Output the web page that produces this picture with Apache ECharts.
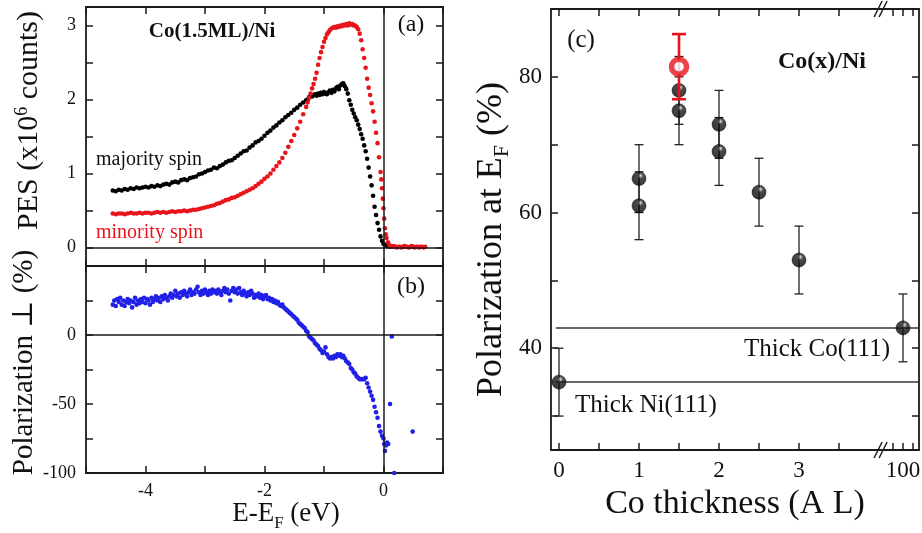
<!DOCTYPE html>
<html>
<head>
<meta charset="utf-8">
<script src="https://cdn.jsdelivr.net/npm/echarts@6.0.0/dist/echarts.min.js"></script>
<style>
  html, body { margin: 0; padding: 0; background: #fff; }
  #chart { width: 922px; height: 533px; }
</style>
</head>
<body>
<div id="chart"></div>
<script>
// ---------- (a) spin-resolved photoemission spectra, Co(1.5ML)/Ni ----------
// [E - E_F (eV), PES (x10^6 counts)]
const majoritySpin = [
  [-4.55,0.77],[-4.50,0.76],[-4.45,0.78],[-4.40,0.77],[-4.35,0.79],[-4.30,0.78],[-4.25,0.80],[-4.20,0.79],
  [-4.15,0.81],[-4.10,0.80],[-4.05,0.81],[-4.00,0.82],[-3.95,0.81],[-3.90,0.83],[-3.85,0.82],[-3.80,0.84],
  [-3.75,0.83],[-3.70,0.85],[-3.65,0.86],[-3.60,0.85],[-3.55,0.88],[-3.50,0.89],[-3.45,0.88],[-3.40,0.91],
  [-3.35,0.92],[-3.30,0.91],[-3.25,0.94],[-3.20,0.95],[-3.15,0.96],[-3.10,0.99],[-3.05,1.00],[-3.00,1.02],
  [-2.95,1.04],[-2.90,1.05],[-2.85,1.08],[-2.80,1.07],[-2.75,1.10],[-2.70,1.12],[-2.65,1.15],[-2.60,1.17],
  [-2.55,1.18],[-2.50,1.21],[-2.45,1.24],[-2.40,1.27],[-2.35,1.30],[-2.30,1.31],[-2.25,1.35],[-2.20,1.38],
  [-2.15,1.42],[-2.10,1.44],[-2.05,1.47],[-2.00,1.51],[-1.95,1.55],[-1.90,1.58],[-1.85,1.62],[-1.80,1.65],
  [-1.75,1.69],[-1.70,1.72],[-1.65,1.76],[-1.60,1.79],[-1.55,1.82],[-1.50,1.86],[-1.45,1.89],[-1.40,1.93],
  [-1.35,1.96],[-1.30,1.99],
  [-1.275,2.00],[-1.25,2.03],[-1.225,2.05],[-1.20,2.04],[-1.175,2.06],[-1.15,2.07],[-1.125,2.05],[-1.10,2.08],
  [-1.075,2.06],[-1.05,2.09],[-1.025,2.07],[-1.00,2.10],[-0.975,2.08],[-0.95,2.07],[-0.925,2.10],[-0.90,2.12],
  [-0.875,2.09],[-0.85,2.13],[-0.825,2.11],[-0.80,2.15],[-0.775,2.17],[-0.75,2.14],[-0.725,2.19],[-0.70,2.21],
  [-0.675,2.22],[-0.65,2.18],[-0.625,2.14],[-0.60,2.08],[-0.575,1.99],[-0.55,1.93],[-0.525,1.86],[-0.50,1.81],
  [-0.475,1.76],[-0.45,1.72],[-0.425,1.66],[-0.40,1.60],[-0.375,1.53],[-0.35,1.47],[-0.325,1.38],[-0.30,1.30],
  [-0.275,1.20],[-0.25,1.08],[-0.225,0.96],[-0.20,0.84],[-0.175,0.70],[-0.15,0.55],[-0.125,0.44],[-0.10,0.33],
  [-0.075,0.24],[-0.05,0.15],[-0.025,0.09],[0.00,0.05],[0.025,0.03],[0.05,0.02],[0.075,0.02],[0.10,0.01]
];
const minoritySpin = [
  [-4.55,0.46],[-4.50,0.45],[-4.45,0.46],[-4.40,0.46],[-4.35,0.45],[-4.30,0.46],[-4.25,0.47],[-4.20,0.46],
  [-4.15,0.46],[-4.10,0.47],[-4.05,0.46],[-4.00,0.47],[-3.95,0.47],[-3.90,0.46],[-3.85,0.47],[-3.80,0.48],
  [-3.75,0.47],[-3.70,0.48],[-3.65,0.47],[-3.60,0.48],[-3.55,0.49],[-3.50,0.48],[-3.45,0.49],[-3.40,0.49],
  [-3.35,0.50],[-3.30,0.49],[-3.25,0.50],[-3.20,0.51],[-3.15,0.51],[-3.10,0.52],[-3.05,0.53],[-3.00,0.54],
  [-2.95,0.55],[-2.90,0.56],[-2.85,0.57],[-2.80,0.59],[-2.75,0.60],[-2.70,0.62],[-2.65,0.64],[-2.60,0.65],
  [-2.55,0.67],[-2.50,0.68],[-2.45,0.70],[-2.40,0.72],[-2.35,0.74],[-2.30,0.76],[-2.25,0.78],[-2.20,0.80],
  [-2.15,0.83],[-2.10,0.86],[-2.05,0.89],[-2.00,0.93],[-1.95,0.96],[-1.90,1.00],[-1.85,1.05],[-1.80,1.10],
  [-1.75,1.15],[-1.70,1.21],[-1.65,1.28],[-1.60,1.36],[-1.55,1.44],[-1.50,1.52],[-1.45,1.61],[-1.40,1.70],
  [-1.35,1.80],[-1.30,1.90],
  [-1.275,1.96],[-1.25,2.02],[-1.225,2.08],[-1.20,2.15],[-1.175,2.21],[-1.15,2.28],[-1.125,2.36],[-1.10,2.47],
  [-1.075,2.56],[-1.05,2.64],[-1.025,2.71],[-1.00,2.78],[-0.975,2.83],[-0.95,2.88],[-0.925,2.91],[-0.90,2.94],
  [-0.875,2.96],[-0.85,2.97],[-0.825,2.98],[-0.80,2.97],[-0.775,2.99],[-0.75,2.98],[-0.725,3.00],[-0.70,2.99],
  [-0.675,3.01],[-0.65,3.00],[-0.625,3.02],[-0.60,3.00],[-0.575,3.03],[-0.55,3.01],[-0.525,3.02],[-0.50,3.00],
  [-0.475,3.00],[-0.45,2.98],[-0.425,2.95],[-0.40,2.89],[-0.375,2.80],[-0.35,2.68],[-0.325,2.56],[-0.30,2.43],
  [-0.275,2.28],[-0.25,2.16],[-0.225,2.06],[-0.20,1.95],[-0.175,1.84],[-0.15,1.70],[-0.125,1.55],[-0.10,1.41],
  [-0.075,1.22],[-0.05,1.02],[-0.0375,0.92],[-0.025,0.80],[-0.0125,0.66],[0.00,0.53],[0.0125,0.39],[0.025,0.26],
  [0.0375,0.18],[0.05,0.13],[0.075,0.07],[0.10,0.03],[0.125,0.02],[0.15,0.01],[0.175,0.02],[0.20,0.01],
  [0.225,0.00],[0.25,0.01],[0.275,0.01],[0.30,0.00],[0.325,0.01],[0.35,0.02],[0.375,0.01],[0.40,0.01],
  [0.425,0.00],[0.45,0.01],[0.475,0.02],[0.50,0.01],[0.525,0.00],[0.55,0.01],[0.575,0.01],[0.60,0.00],
  [0.625,0.01],[0.65,0.01],[0.675,0.00],[0.70,0.01]
];

// ---------- (b) spin polarization perpendicular (%) ----------
const spinPolarization = [
  [-4.55,22],[-4.525,25],[-4.50,21],[-4.475,26],[-4.45,24],[-4.425,27],[-4.40,22],[-4.375,25],
  [-4.35,21],[-4.325,24],[-4.30,26],[-4.275,23],[-4.25,25],[-4.225,20],[-4.20,24],[-4.175,27],
  [-4.15,22],[-4.125,25],[-4.10,23],[-4.075,26],[-4.05,24],[-4.025,27],[-4.00,23],[-3.975,26],
  [-3.95,25],[-3.925,22],[-3.90,27],[-3.875,24],[-3.85,26],[-3.825,28],[-3.80,25],[-3.775,27],
  [-3.75,24],[-3.725,28],[-3.70,26],[-3.675,29],[-3.65,27],[-3.625,25],[-3.60,28],[-3.575,30],
  [-3.55,27],[-3.525,29],[-3.50,32],[-3.475,28],[-3.45,30],[-3.425,27],[-3.40,31],[-3.375,29],
  [-3.35,32],[-3.325,30],[-3.30,28],[-3.275,31],[-3.25,33],[-3.225,29],[-3.20,31],[-3.175,30],
  [-3.15,33],[-3.125,35],[-3.10,31],[-3.075,29],[-3.05,32],[-3.025,30],[-3.00,33],[-2.975,31],
  [-2.95,29],[-2.925,32],[-2.90,30],[-2.875,33],[-2.85,31],[-2.825,32],[-2.80,30],[-2.775,33],
  [-2.75,31],[-2.725,29],[-2.70,32],[-2.675,34],[-2.65,31],[-2.625,33],[-2.60,30],[-2.575,25],
  [-2.55,32],[-2.525,34],[-2.50,31],[-2.475,33],[-2.45,30],[-2.425,34],[-2.40,31],[-2.375,29],
  [-2.35,32],[-2.325,30],[-2.30,28],[-2.275,31],[-2.25,29],[-2.225,32],[-2.20,30],[-2.175,27],
  [-2.15,29],[-2.125,28],[-2.10,30],[-2.075,27],[-2.05,29],[-2.025,26],[-2.00,28],[-1.975,29],
  [-1.95,26],[-1.925,27],[-1.90,25],[-1.875,26],[-1.85,24],[-1.825,25],[-1.80,23],[-1.775,24],
  [-1.75,22],[-1.725,21],[-1.70,22],[-1.675,20],[-1.65,19],[-1.625,18],[-1.60,17],[-1.575,16],
  [-1.55,15],[-1.525,14],[-1.50,13],[-1.475,12],[-1.45,11],[-1.425,9],[-1.40,8],[-1.375,7],
  [-1.35,6],[-1.325,5],[-1.30,3],[-1.275,2],[-1.25,-1],[-1.225,-2],[-1.20,-3],[-1.175,-4],
  [-1.15,-6],[-1.125,-7],[-1.10,-8],[-1.075,-10],[-1.05,-11],[-1.025,-13],[-1.00,-12],[-0.975,-9],
  [-0.95,-14],[-0.925,-16],[-0.90,-17],[-0.875,-16],[-0.85,-17],[-0.825,-15],[-0.80,-16],[-0.775,-14],
  [-0.75,-15],[-0.725,-14],[-0.70,-16],[-0.675,-15],[-0.65,-17],[-0.625,-19],[-0.60,-20],[-0.575,-21],
  [-0.55,-24],[-0.525,-25],[-0.50,-27],[-0.475,-28],[-0.45,-30],[-0.425,-31],[-0.40,-32],[-0.375,-32],
  [-0.35,-32],[-0.325,-32],[-0.30,-31],[-0.275,-35],[-0.25,-38],[-0.225,-41],[-0.20,-44],[-0.175,-47],
  [-0.15,-52],[-0.125,-56],[-0.10,-60],[-0.075,-66],[-0.05,-70],[-0.025,-73],[0.00,-75],[0.0125,-79],
  [0.025,-84],[0.04,-80],[0.06,-78],[0.08,-79],
  [0.11,-50],[0.14,-1],[0.18,-100],[0.49,-70]
];

const energyTicks = [-5, -4, -3, -2, -1, 0, 1];
const energyLabels = [-4, -2, 0];
const pesTicks = [0, 0.5, 1, 1.5, 2, 2.5, 3];
const pesLabels = [0, 1, 2, 3];
const polTicks = [-100, -75, -50, -25, 0, 25, 50];
const polLabels = [-100, -50, 0];

// ---------- (c) polarization at E_F versus Co thickness ----------
const coThickness      = [0, 1, 1, 1.5, 1.5, 2, 2, 2.5, 3, 100];
const polarizationAtEF = [35, 65, 61, 78, 75, 73, 69, 63, 53, 43];
const polarizationErr  = [5, 5, 5, 5, 5, 5, 5, 5, 5, 5];
const markedThickness     = [1.5];
const markedPolarization  = [81.5];
const markedErr           = [4.8];
const thickCoLevel = 43;
const thickNiLevel = 35;
const thicknessTicks  = [0, 0.5, 1, 1.5, 2, 2.5, 3, 3.5, 50, 100, 150];
const thicknessLabels = [0, 1, 2, 3, 100];
const efTicks  = [30, 40, 50, 60, 70, 80, 90];
const efLabels = [40, 60, 80];

// broken thickness axis: linear up to 3.5 AL, then a compressed segment around 100 AL
const BREAK_AT = 4.02;
function axisPos(t) { return t < 10 ? t : 4.3 + (t - 100) / 400; }

const FONT = "'Liberation Serif', 'DejaVu Serif', serif";
const INK = '#1a1a1a';
const FRAME = { color: INK, width: 1.8 };
const RED = '#e8141c';
const BLUE = '#2020e8';

function frameAxis(extra, ticks, labels, fmt, labelSize, margin) {
  const base = {
    type: 'value',
    splitLine: { show: false },
    axisLine: { show: true, onZero: false, lineStyle: FRAME },
    axisTick: { show: true, inside: true, length: 7, customValues: ticks, lineStyle: { color: INK, width: 1.5 } },
    axisLabel: labels
      ? { show: true, customValues: labels, formatter: fmt, color: '#111', fontFamily: FONT, fontSize: labelSize, margin: margin }
      : { show: false }
  };
  return Object.assign(base, extra);
}

const energyFmt = v => String(v);
const thicknessFmt = v => {
  for (const t of thicknessLabels) if (Math.abs(axisPos(t) - v) < 1e-6) return String(t);
  return '';
};

const xAxis = [
  frameAxis({ gridIndex: 0, position: 'bottom', min: -5, max: 1 }, energyTicks),
  frameAxis({ gridIndex: 0, position: 'top', min: -5, max: 1 }, energyTicks),
  frameAxis({
    gridIndex: 1, position: 'bottom', min: -5, max: 1,
    name: '{n|E-E}{s|F}{n| (eV)}', nameLocation: 'middle', nameGap: 22,
    nameTextStyle: {
      padding: [0, 0, 0, 43],
      rich: {
        n: { fontFamily: FONT, fontSize: 27, color: '#111' },
        s: { fontFamily: FONT, fontSize: 17, color: '#111', padding: [18, 0, 0, 0] }
      }
    }
  }, energyTicks, energyLabels, energyFmt, 18, 9),
  frameAxis({ gridIndex: 1, position: 'top', min: -5, max: 1 }, energyTicks),
  frameAxis({
    gridIndex: 2, position: 'bottom', min: -0.1, max: 4.5,
    name: 'Co thickness (A L)', nameLocation: 'middle', nameGap: 24,
    nameTextStyle: { fontFamily: FONT, fontSize: 34, color: '#111' }
  }, thicknessTicks.map(axisPos), thicknessLabels.map(axisPos), thicknessFmt, 23, 9),
  frameAxis({ gridIndex: 2, position: 'top', min: -0.1, max: 4.5 }, thicknessTicks.map(axisPos))
];

const yAxis = [
  frameAxis({
    gridIndex: 0, position: 'left', min: -0.25, max: 3.25,
    name: '{n|PES (x10}{p|6}{n| counts)}', nameLocation: 'middle', nameGap: 41, nameRotate: 90,
    nameTextStyle: {
      padding: [0, 0, 0, 32],
      rich: {
        n: { fontFamily: FONT, fontSize: 30, color: '#111' },
        p: { fontFamily: FONT, fontSize: 18, color: '#111', padding: [0, 0, 14, 0] }
      }
    }
  }, pesTicks, pesLabels, energyFmt, 18, 10),
  frameAxis({ gridIndex: 0, position: 'right', min: -0.25, max: 3.25 }, pesTicks),
  frameAxis({
    gridIndex: 1, position: 'left', min: -100, max: 50,
    name: 'Polarization \u22A5 (%)', nameLocation: 'middle', nameGap: 42, nameRotate: 90,
    nameTextStyle: { fontFamily: FONT, fontSize: 29, color: '#111', padding: [0, 0, 0, 14] }
  }, polTicks, polLabels, energyFmt, 18, 10),
  frameAxis({ gridIndex: 1, position: 'right', min: -100, max: 50 }, polTicks),
  frameAxis({
    gridIndex: 2, position: 'left', min: 25, max: 90,
    name: '{n|Polarization at E}{s|F}{n| (%)}', nameLocation: 'middle', nameGap: 38, nameRotate: 90,
    nameTextStyle: {
      padding: [0, 20, 0, 0],
      rich: {
        n: { fontFamily: FONT, fontSize: 36, color: '#111' },
        s: { fontFamily: FONT, fontSize: 22, color: '#111', padding: [20, 0, 0, 0] }
      }
    }
  }, efTicks, efLabels, energyFmt, 23, 9),
  frameAxis({ gridIndex: 2, position: 'right', min: 25, max: 90 }, efTicks)
];

const zeroLines = {
  silent: true, symbol: ['none', 'none'], label: { show: false },
  lineStyle: { color: INK, width: 1.5, type: 'solid' },
  emphasis: { disabled: true },
  data: [{ xAxis: 0 }, { yAxis: 0 }]
};

function dotSeries(name, data, xi, yi, color, withZeroLines) {
  const s = {
    name, type: 'scatter', xAxisIndex: xi, yAxisIndex: yi, data,
    symbol: 'circle', symbolSize: 4.6, itemStyle: { color, opacity: 1 },
    silent: true, z: 3
  };
  if (withZeroLines) s.markLine = zeroLines;
  return s;
}

function errorBars(name, xs, ys, es, color, width, capHalf, z) {
  return {
    name, type: 'custom', xAxisIndex: 4, yAxisIndex: 4, z, silent: true, clip: false,
    data: xs.map((t, i) => [axisPos(t), ys[i] - es[i], ys[i] + es[i]]),
    renderItem(params, api) {
      const x = api.value(0);
      const lo = api.coord([x, api.value(1)]);
      const hi = api.coord([x, api.value(2)]);
      const st = { stroke: color, lineWidth: width, fill: null };
      return {
        type: 'group',
        children: [
          { type: 'line', shape: { x1: lo[0], y1: lo[1], x2: hi[0], y2: hi[1] }, style: st },
          { type: 'line', shape: { x1: lo[0] - capHalf, y1: lo[1], x2: lo[0] + capHalf, y2: lo[1] }, style: st },
          { type: 'line', shape: { x1: hi[0] - capHalf, y1: hi[1], x2: hi[0] + capHalf, y2: hi[1] }, style: st }
        ]
      };
    }
  };
}

// glossy black sphere
const ballFill = {
  type: 'radial', x: 0.6, y: 0.3, r: 0.85,
  colorStops: [
    { offset: 0, color: '#f4f4f4' },
    { offset: 0.08, color: '#8a8a8a' },
    { offset: 0.24, color: '#1c1c1c' },
    { offset: 1, color: '#000' }
  ]
};

const series = [
  dotSeries('majority spin', majoritySpin, 0, 0, '#000', true),
  dotSeries('minority spin', minoritySpin, 0, 0, RED, false),
  dotSeries('polarization', spinPolarization, 2, 2, BLUE, true),

  errorBars('error', coThickness, polarizationAtEF, polarizationErr, '#222', 1.3, 4.5, 3),
  {
    name: 'P(E_F)', type: 'scatter', xAxisIndex: 4, yAxisIndex: 4, z: 5, silent: true,
    data: coThickness.map((t, i) => [axisPos(t), polarizationAtEF[i]]),
    symbol: 'circle', symbolSize: 14,
    itemStyle: { color: ballFill, borderColor: '#000', borderWidth: 0.6 },
    markLine: {
      silent: true, symbol: ['none', 'none'], label: { show: false },
      lineStyle: { color: '#333', width: 1.5, type: 'solid' },
      data: [
        [{ coord: [-0.04, thickCoLevel] }, { coord: [4.5, thickCoLevel] }],
        [{ coord: [-0.04, thickNiLevel] }, { coord: [4.5, thickNiLevel] }]
      ]
    }
  },
  errorBars('marked error', markedThickness, markedPolarization, markedErr, RED, 2.6, 7, 6),
  {
    name: 'marked', type: 'scatter', xAxisIndex: 4, yAxisIndex: 4, z: 7, silent: true,
    data: markedThickness.map((t, i) => [axisPos(t), markedPolarization[i]]),
    symbol: 'circle', symbolSize: 15,
    itemStyle: { color: '#fff', borderColor: RED, borderWidth: 5.5 }
  },
  {
    name: 'axis break', type: 'custom', xAxisIndex: 4, yAxisIndex: 4, z: 20, silent: true, clip: false,
    data: [[BREAK_AT]],
    renderItem(params, api) {
      const x = api.value(0);
      const top = api.coord([x, 90]);
      const bottom = api.coord([x, 25]);
      const st = { stroke: INK, lineWidth: 1.5, fill: null };
      const children = [];
      for (const p of [top, bottom]) {
        for (const d of [-2.5, 2.5]) {
          children.push({ type: 'line', shape: { x1: p[0] + d - 4, y1: p[1] + 8, x2: p[0] + d + 4, y2: p[1] - 8 }, style: st });
        }
      }
      return { type: 'group', children };
    }
  }
];

function txt(text, x, y, size, opts) {
  opts = opts || {};
  return {
    type: 'text', x, y, z: 100, silent: true,
    style: {
      text,
      font: (opts.bold ? 'bold ' : '') + size + 'px ' + FONT,
      fill: opts.color || '#111',
      align: opts.align || 'center', textAlign: opts.align || 'center',
      verticalAlign: 'middle', textVerticalAlign: 'middle'
    }
  };
}

const option = {
  animation: false,
  backgroundColor: '#fff',
  textStyle: { fontFamily: FONT },
  grid: [
    { left: 86, top: 7, width: 357, height: 259, containLabel: false, outerBoundsMode: 'none' },
    { left: 86, top: 266, width: 357, height: 207, containLabel: false, outerBoundsMode: 'none' },
    { left: 551, top: 9, width: 368, height: 441, containLabel: false, outerBoundsMode: 'none' }
  ],
  xAxis, yAxis, series,
  graphic: [
    txt('Co(1.5ML)/Ni', 212, 32, 21, { bold: true }),
    txt('(a)', 411, 25, 24),
    txt('(b)', 411, 287, 24),
    txt('majority spin', 96, 160, 20, { align: 'left' }),
    txt('minority spin', 96, 233, 20, { align: 'left', color: RED }),
    txt('(c)', 581, 40, 25),
    txt('Co(x)/Ni', 822, 62, 24, { bold: true }),
    txt('Thick Co(111)', 890, 349, 25, { align: 'right' }),
    txt('Thick Ni(111)', 575, 405, 25, { align: 'left' })
  ]
};

const chart = echarts.init(document.getElementById('chart'), null, { renderer: 'canvas' });
chart.setOption(option);
</script>
</body>
</html>
